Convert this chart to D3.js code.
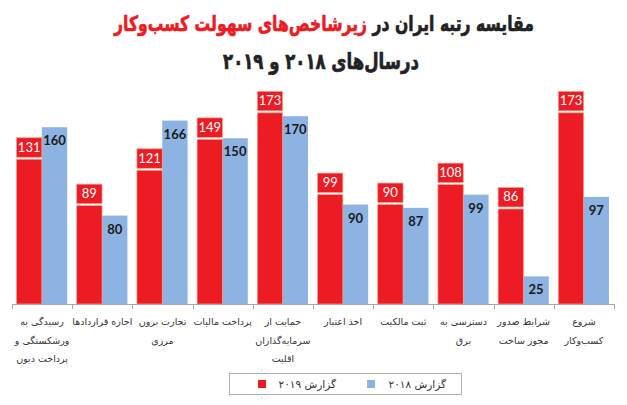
<!DOCTYPE html>
<html>
<head>
<meta charset="utf-8">
<script src="https://cdn.jsdelivr.net/npm/d3@7"></script>
<style>
  html, body { margin: 0; padding: 0; background: #fff; }
  svg { display: block; }
</style>
</head>
<body>
<svg id="chart"></svg>
<script>
// dati del grafico
const categories = [
  ["رسیدگی به", "ورشکستگی و", "پرداخت دیون"],
  ["اجاره قراردادها"],
  ["تجارت برون", "مرزی"],
  ["پرداخت مالیات"],
  ["حمایت از", "سرمایه‌گذاران", "اقلیت"],
  ["اخذ اعتبار"],
  ["ثبت مالکیت"],
  ["دسترسی به", "برق"],
  ["شرایط صدور", "مجوز ساخت"],
  ["شروع", "کسب‌وکار"]
];
const rank2019 = [131, 89, 121, 149, 173, 99, 90, 108, 86, 173];
const rank2018 = [160, 80, 166, 150, 170, 90, 87, 99, 25, 97];
const seriesNames = ["گزارش ۲۰۱۹", "گزارش ۲۰۱۸"];
const titleBlack = "مقایسه رتبه ایران در ";
const titleRed = "زیرشاخص‌های سهولت کسب‌وکار";
const titleLine2 = "درسال‌های ۲۰۱۸ و ۲۰۱۹";

const width = 627, height = 405;
const red = "#ed1c24", blue = "#8db3e2";
const faFont = "'DejaVu Sans', sans-serif";
const numFont = "Lato, 'Open Sans', sans-serif";

const svg = d3.select("#chart").attr("width", width).attr("height", height);

// titolo (allungato in verticale per somigliare al font originale)
function title(cx, cy) {
  return svg.append("text")
    .attr("transform", `translate(${cx},${cy}) scale(1,1.35)`)
    .attr("text-anchor", "middle")
    .attr("direction", "rtl")
    .attr("font-family", faFont).attr("font-weight", "bold")
    .attr("font-size", 21).attr("fill", "#222")
    .attr("stroke", "#222").attr("stroke-width", 0.5);
}
const t1 = title(324, 31);
t1.append("tspan").text(titleBlack);
t1.append("tspan").attr("fill", red).attr("stroke", red).text(titleRed);
const t2 = title(321, 69).text(titleLine2);

// adatta la larghezza dei titoli
function fit(sel, target) {
  const w = sel.node().getComputedTextLength();
  const fs = +sel.attr("font-size");
  sel.attr("font-size", fs * target / w);
}
fit(t1, 420);
fit(t2, 196);

// scale
const idx = d3.range(categories.length);
const x0 = d3.scaleBand().domain(idx).range([12, 614]).padding(0);
const x1 = d3.scaleBand().domain([0, 1]).range([4.5, x0.bandwidth() - 5]).padding(0);
const y = d3.scaleLinear().domain([0, 200]).range([304, 83]);

const data = idx.map(i => ({ i, v: [rank2019[i], rank2018[i]] }));

const groups = svg.append("g").selectAll("g")
  .data(data).join("g")
  .attr("transform", d => `translate(${x0(d.i)},0)`);

// barre 2018
groups.append("rect")
  .attr("x", x1(1)).attr("width", x1.bandwidth())
  .attr("y", d => y(d.v[1])).attr("height", d => y(0) - y(d.v[1]))
  .attr("fill", blue);

// barre 2019
groups.append("rect")
  .attr("x", x1(0)).attr("width", x1.bandwidth())
  .attr("y", d => y(d.v[0])).attr("height", d => y(0) - y(d.v[0]))
  .attr("fill", red).attr("stroke", "#f6a28c").attr("stroke-width", 0.7);

// etichette 2019 (box rosso)
groups.append("rect")
  .attr("x", x1(0)).attr("width", x1.bandwidth())
  .attr("y", d => y(d.v[0]) - 21.5).attr("height", 19.5)
  .attr("fill", red).attr("stroke", "#f6a28c").attr("stroke-width", 0.7);
groups.append("text")
  .attr("x", x1(0) + x1.bandwidth() / 2)
  .attr("y", d => y(d.v[0]) - 7.5)
  .attr("text-anchor", "middle")
  .attr("font-family", numFont).attr("font-size", 13)
  .attr("fill", "#fff")
  .text(d => d.v[0]);

// etichette 2018
groups.append("text")
  .attr("x", x1(1) + x1.bandwidth() / 2)
  .attr("y", d => y(d.v[1]) + 18)
  .attr("text-anchor", "middle")
  .attr("font-family", numFont).attr("font-size", 13).attr("font-weight", "bold")
  .attr("fill", "#1a1a1a")
  .text(d => d.v[1]);

// asse
svg.append("line")
  .attr("x1", 12).attr("x2", 614).attr("y1", 304.5).attr("y2", 304.5)
  .attr("stroke", "#a6a6a6");
svg.append("g").selectAll("line")
  .data(d3.range(categories.length + 1)).join("line")
  .attr("x1", i => Math.round(12 + i * x0.bandwidth()) + 0.5)
  .attr("x2", i => Math.round(12 + i * x0.bandwidth()) + 0.5)
  .attr("y1", 304).attr("y2", 309)
  .attr("stroke", "#a6a6a6");

// etichette categorie
groups.append("text")
  .attr("text-anchor", "middle")
  .attr("direction", "rtl")
  .attr("font-family", faFont).attr("font-size", 9.5)
  .attr("fill", "#333")
  .each(function(d) {
    d3.select(this).selectAll("tspan")
      .data(categories[d.i]).join("tspan")
      .attr("x", x0.bandwidth() / 2)
      .attr("y", (s, k) => 325 + k * 18.5)
      .text(s => s);
  });

// legenda
svg.append("rect")
  .attr("x", 229.5).attr("y", 373.5).attr("width", 232).attr("height", 21)
  .attr("fill", "#fff").attr("stroke", "#b0b0b0");
const legend = [
  { name: seriesNames[0], color: red, sx: 258, tx: 336 },
  { name: seriesNames[1], color: blue, sx: 367, tx: 446 }
];
const lg = svg.append("g").selectAll("g").data(legend).join("g");
lg.append("rect")
  .attr("x", d => d.sx).attr("y", 380).attr("width", 8).attr("height", 8)
  .attr("fill", d => d.color);
lg.append("text")
  .attr("x", d => d.tx).attr("y", 388)
  .attr("direction", "rtl").attr("text-anchor", "start")
  .attr("font-family", faFont).attr("font-size", 10.5)
  .attr("fill", "#333")
  .text(d => d.name);
</script>
</body>
</html>
